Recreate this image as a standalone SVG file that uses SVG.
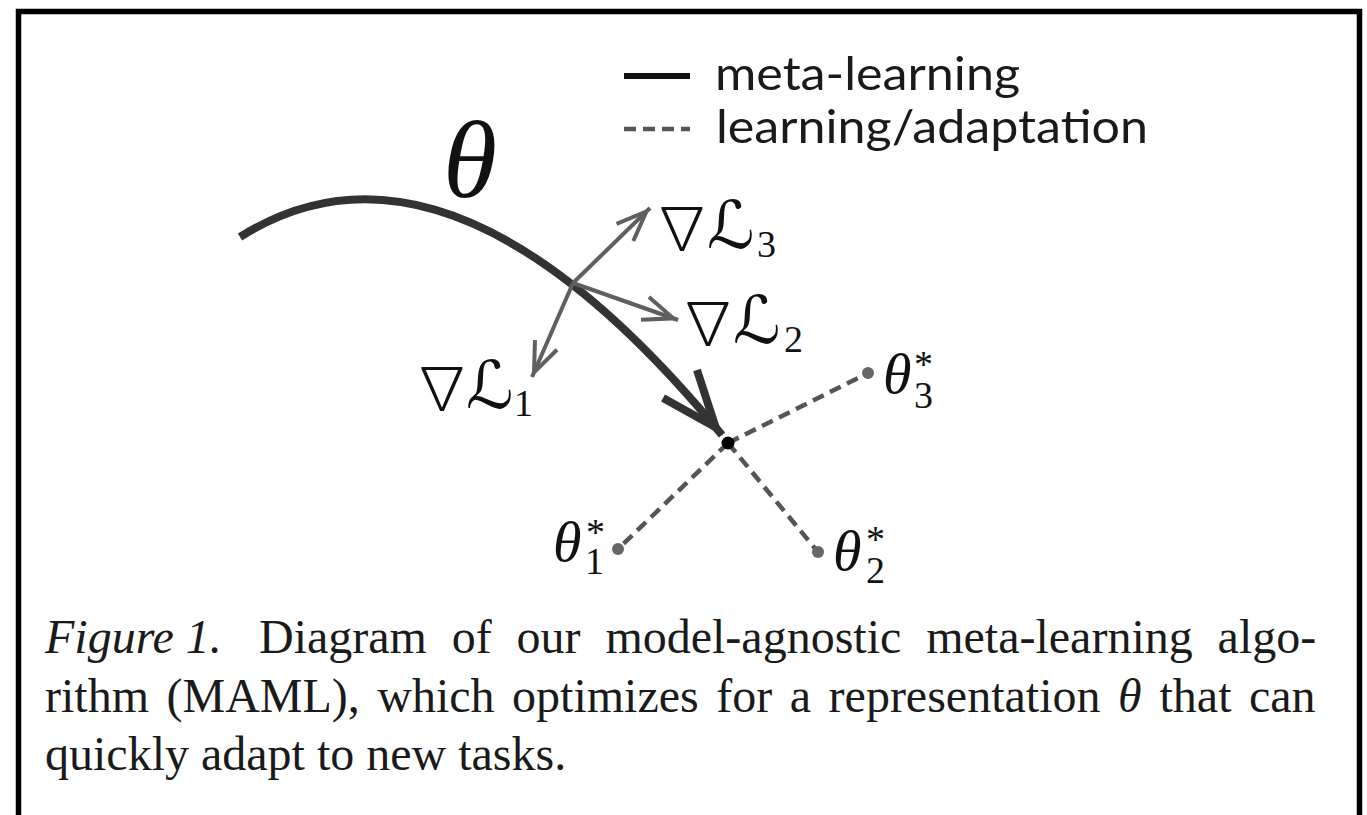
<svg xmlns="http://www.w3.org/2000/svg" width="1367" height="815" viewBox="0 0 1367 815">
  <style>
    .cap { font-family: "Liberation Serif", "Times New Roman", serif; font-size: 48px; fill: #1a1a1a; }
    .it { font-style: italic; }
    .leg { font-family: Lato, "Open Sans", sans-serif; font-size: 46px; fill: #1a1a1a; }
    .th { font-family: "Liberation Serif", "DejaVu Serif", serif; font-style: italic; fill: #111; }
    .idx { font-family: "Liberation Serif", "DejaVu Serif", serif; font-size: 38px; font-style: normal; fill: #111; }
    .nab { font-family: "Noto Sans CJK JP", "DejaVu Serif", serif; font-size: 60px; font-weight: 200; fill: #111; }
    .cal { font-family: "DejaVu Sans", "DejaVu Serif", serif; font-size: 66px; fill: #111; }
    .adapt { stroke: #555; stroke-width: 4.5; stroke-dasharray: 12 7; fill: none; }
    .grad { stroke: #5f5f5f; stroke-width: 4; fill: none; marker-end: url(#gradHead); }
    .opt { fill: #666; }
  </style>
  <defs>
    <marker id="metaHead" markerUnits="userSpaceOnUse" viewBox="0 0 90 60" markerWidth="90" markerHeight="60" refX="80" refY="30" orient="auto" overflow="visible">
      <path d="M14,8 L70,30 L14,52" fill="none" stroke="#333" stroke-width="8"/>
    </marker>
    <marker id="gradHead" markerUnits="userSpaceOnUse" viewBox="0 0 44 30" markerWidth="44" markerHeight="30" refX="39" refY="15" orient="auto" overflow="visible">
      <path d="M4,3 L34,15 L4,27" fill="none" stroke="#5f5f5f" stroke-width="4"/>
    </marker>
  </defs>

  <rect x="0" y="0" width="1367" height="815" fill="#ffffff"/>
  <rect id="frame" x="18.5" y="11.5" width="1341" height="900" fill="#ffffff" stroke="#000" stroke-width="5.5"/>

  <g id="legend">
    <line x1="624" y1="76" x2="690" y2="76" stroke="#111" stroke-width="6"/>
    <text class="leg" x="715" y="90" textLength="305" lengthAdjust="spacingAndGlyphs">meta-learning</text>
    <line class="adapt" x1="624" y1="129" x2="690" y2="129" stroke-dasharray="11 5.5"/>
    <text class="leg" x="716" y="143" textLength="432" lengthAdjust="spacingAndGlyphs">learning/adaptation</text>
  </g>

  <g id="connectors">
    <path id="meta-path" d="M240,237 Q450,105 722,435" fill="none" stroke="#333" stroke-width="8" marker-end="url(#metaHead)"/>
    <path class="grad" d="M573,283 L650,208"/>
    <path class="grad" d="M573,283 L678,320"/>
    <path class="grad" d="M573,283 L532,377"/>
    <line class="adapt" x1="728" y1="443" x2="868" y2="373"/>
    <line class="adapt" x1="728" y1="443" x2="818" y2="552"/>
    <line class="adapt" x1="728" y1="443" x2="618" y2="549"/>
  </g>

  <g id="theta">
    <text class="th" x="443" y="197" font-size="110">θ</text>
  </g>

  <g id="grad-L3">
    <text class="nab" x="652" y="250">∇</text>
    <text class="cal" x="707" y="248">ℒ</text>
    <text class="idx" x="757" y="257">3</text>
  </g>
  <g id="grad-L2">
    <text class="nab" x="678" y="345">∇</text>
    <text class="cal" x="733" y="343">ℒ</text>
    <text class="idx" x="784" y="352">2</text>
  </g>
  <g id="grad-L1">
    <text class="nab" x="412" y="410">∇</text>
    <text class="cal" x="466" y="408">ℒ</text>
    <text class="idx" x="514" y="416">1</text>
  </g>

  <g id="theta-center">
    <circle cx="728" cy="443" r="6.5" fill="#000"/>
  </g>
  <g id="theta3">
    <circle class="opt" cx="868" cy="373" r="6"/>
    <text class="th" x="883" y="393" font-size="58">θ</text>
    <text class="idx" x="914" y="377">*</text>
    <text class="idx" x="914" y="408">3</text>
  </g>
  <g id="theta2">
    <circle class="opt" cx="818" cy="552" r="6"/>
    <text class="th" x="833" y="570" font-size="58">θ</text>
    <text class="idx" x="866" y="552">*</text>
    <text class="idx" x="866" y="583">2</text>
  </g>
  <g id="theta1">
    <circle class="opt" cx="618" cy="549" r="6"/>
    <text class="th" x="553" y="561" font-size="58">θ</text>
    <text class="idx" x="586" y="545">*</text>
    <text class="idx" x="585" y="574">1</text>
  </g>

  <g id="caption">
    <text class="cap" y="653"><tspan class="it" x="45">Figure 1.</tspan><tspan x="259">Diagram</tspan><tspan x="451.8">of</tspan><tspan x="516.6">our</tspan><tspan x="605.4">model-agnostic</tspan><tspan x="926.2">meta-learning</tspan><tspan x="1217.6">algo-</tspan></text>
    <text class="cap" y="712"><tspan x="45">rithm</tspan><tspan x="166.5">(MAML),</tspan><tspan x="377.3">which</tspan><tspan x="512.1">optimizes</tspan><tspan x="716.3">for</tspan><tspan x="789.8">a</tspan><tspan x="828.6">representation</tspan><tspan class="it" x="1118">θ</tspan><tspan x="1159.5">that</tspan><tspan x="1249">can</tspan></text>
    <text class="cap" x="45" y="770">quickly adapt to new tasks.</text>
  </g>
</svg>
